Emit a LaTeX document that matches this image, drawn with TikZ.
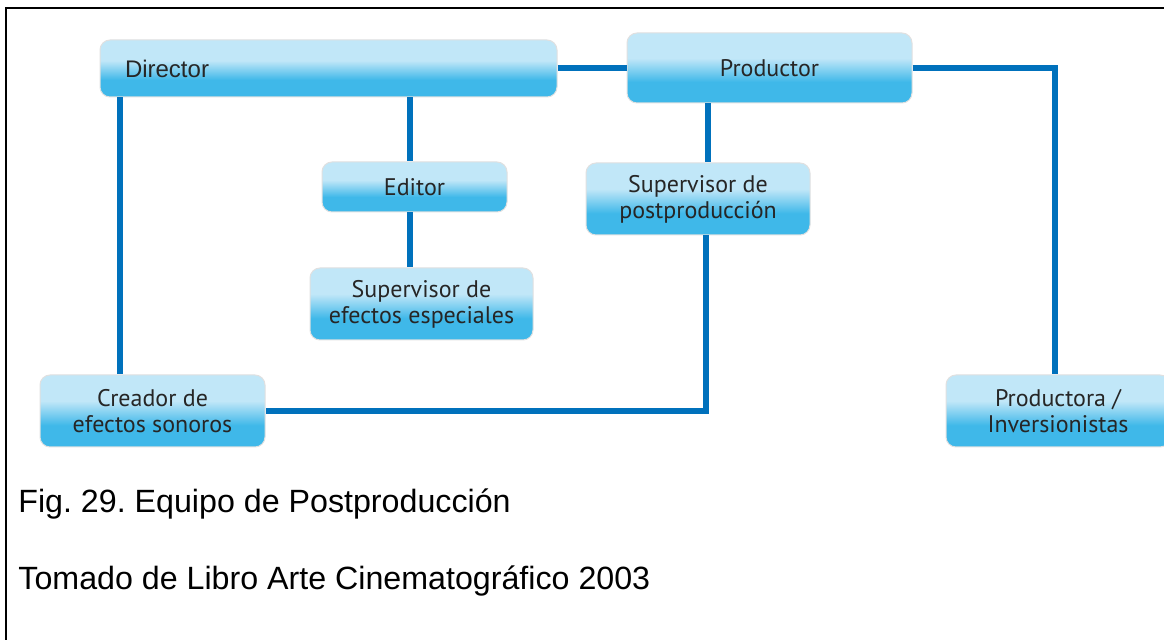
\documentclass[tikz,border=0pt]{standalone}
\usepackage{fontspec}
\setmainfont{Liberation Sans}
\newfontfamily\boxfont{PT Sans}
\usetikzlibrary{calc}
\frenchspacing

\definecolor{boxtop}{HTML}{C1E7F8}
\definecolor{boxbot}{HTML}{3FB8E9}
\definecolor{linkblue}{HTML}{0071BC}
\pgfdeclareverticalshading{boxshade}{100bp}{color(0bp)=(boxbot); color(25bp)=(boxbot); color(40bp)=(boxbot); color(57bp)=(boxtop); color(75bp)=(boxtop); color(100bp)=(boxtop)}

\begin{document}
\begin{tikzpicture}[x=0.5pt,y=-0.5pt,
	rol/.style={rectangle, rounded corners=5pt, draw=black!12, line width=0.5pt, shading=boxshade, text=black!85, font=\boxfont\fontsize{12}{13}\selectfont, align=center, inner sep=0pt, minimum height=36pt},
	link/.style={draw=linkblue, line width=3pt}]
			\fill[white] (0,0) rectangle (1164,640);
			\useasboundingbox (0,0) rectangle (1164,640);
			\draw[line width=1.2pt] (6,640) -- (6,8) -- (1164,8);

			\node[rol, minimum width=228.5pt, minimum height=28.5pt, text width=203.5pt, inner xsep=12.5pt, align=left, font=\fontsize{12}{13}\selectfont] (Director) at (328.5,68.5) {Director};
			\node[rol, minimum width=142.5pt, minimum height=35pt]   (Productor)  at (769.5,68)  {Productor};
			\node[rol, minimum width=92.5pt, minimum height=25pt]    (Editor)     at (414.5,187) {Editor};
			\node[rol, minimum width=112pt]                          (Postprod)   at (698,199)   {Supervisor de\\postproducción};
			\node[rol, minimum width=111.5pt]                        (Efectos)    at (421.5,304) {Supervisor de\\efectos especiales};
			\node[rol, minimum width=112.5pt]                        (Creador)    at (152.5,411) {Creador de\\efectos sonoros};
			\node[rol, minimum width=112pt]                          (Productora) at (1058,411)  {Productora /\\Inversionistas};

			\coordinate (dl) at ([xshift=10pt]Director.south west);
			\coordinate (en) at ([xshift=-2.5pt]Editor.north);
			\coordinate (es) at ([xshift=-2.5pt]Editor.south);
			\coordinate (pn) at ([xshift=5pt]Postprod.north);
			\coordinate (ps) at ([xshift=4pt]Postprod.south);
			\coordinate (an) at ([xshift=-1.5pt]Productora.north);

			\draw[link] (Director.east) -- (Director.east -| Productor.west);
			\draw[link] (Productor.east) -| (an);
			\draw[link] (dl) -- (dl |- Creador.north);
			\draw[link] (en |- Director.south) -- (en);
			\draw[link] (es) -- (es |- Efectos.north);
			\draw[link] (pn |- Productor.south) -- (pn);
			\draw[link] (ps) |- (Creador.east);

			\node[anchor=base west, inner sep=0pt, font=\fontsize{16.1}{18}\selectfont] (fig)    at (18,513) {Fig. 29. Equipo de Postproducción};
			\node[anchor=base west, inner sep=0pt, font=\fontsize{16.1}{18}\selectfont] (fuente) at (18,590) {Tomado de Libro Arte Cinematográfico 2003};
\end{tikzpicture}
\end{document}
